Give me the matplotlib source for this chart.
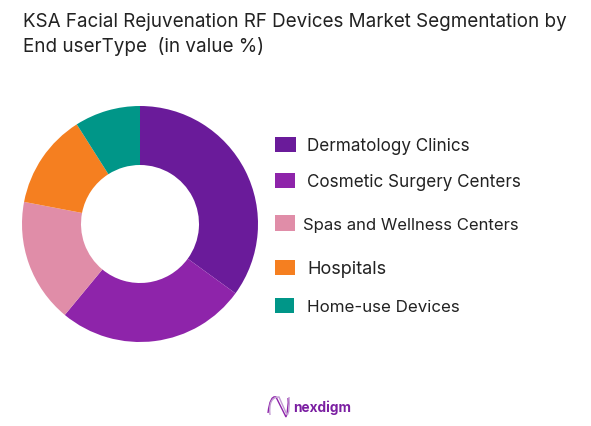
import matplotlib
matplotlib.use("Agg")
import matplotlib.pyplot as plt
from matplotlib.patches import Rectangle
from matplotlib.path import Path
from matplotlib.patches import PathPatch

categories = ["Dermatology Clinics", "Cosmetic Surgery Centers", "Spas and Wellness Centers", "Hospitals", "Home-use Devices"]
values = [35, 26, 17, 13, 9]
colors = ["#6A1B9A", "#8E24AA", "#E08DA8", "#F57F20", "#009688"]
title_lines = ["KSA Facial Rejuvenation RF Devices Market Segmentation by", "End userType  (in value %)"]

W, H = 591, 427
fig = plt.figure(figsize=(W/100, H/100), dpi=100, facecolor="white")
plt.rcParams['font.family'] = ['Inter', 'DejaVu Sans']

# pixel overlay
ov = fig.add_axes([0, 0, 1, 1])
ov.set_xlim(0, W); ov.set_ylim(H, 0); ov.axis("off")

# donut
R = 118; cx, cy = 140, 225
ax = fig.add_axes([(cx-R)/W, 1-(cy+R)/H, 2*R/W, 2*R/H])
ax.pie(values, colors=colors, startangle=90, counterclock=False, radius=1,
       wedgeprops=dict(width=0.5, linewidth=0))
ax.set_xlim(-1, 1); ax.set_ylim(-1, 1)

# title
tc = "#222222"
ov.text(23, 22, title_lines[0], fontsize=13.55, color=tc, va="center", ha="left")
ov.text(23, 46, title_lines[1], fontsize=13.55, color=tc, va="center", ha="left")

# legend
swatch_x = [275, 275, 275, 275, 275]
swatch_y = [138, 174, 216, 261, 299]
swatch_w = [21, 20, 20, 20, 19]
swatch_h = [15, 15, 16, 15, 15]
text_x = [307, 307, 303, 307, 307]
text_y = [147, 183, 226, 270, 308]
text_size = [12.3, 12.3, 12.0, 13.0, 12.2]
for c, col, sx, sy, sw, sh, tx, ty, fs in zip(categories, colors, swatch_x, swatch_y, swatch_w, swatch_h, text_x, text_y, text_size):
    ov.add_patch(Rectangle((sx, sy), sw, sh, facecolor=col, edgecolor="none"))
    ov.text(tx, ty, c, fontsize=fs, color=tc, va="center", ha="left")

# logo
for col, pts in [("#8E24AA", [(268, 414), (270, 396), (276, 398), (281, 408), (286, 418), (289, 408), (288, 399)]),
                 ("#C39BD3", [(270, 416), (268, 398), (279, 398), (283, 407), (287, 416), (290, 414), (289, 398)])]:
    codes = [Path.MOVETO] + [Path.CURVE3]*(len(pts)-1 if (len(pts)-1) % 2 == 0 else len(pts)-2)
    p = pts[:len(codes)]
    ov.add_patch(PathPatch(Path(p, codes), fill=False, edgecolor=col, lw=1.0))
ov.text(293, 408, "nexdigm", fontsize=9.8, color="#7B1FA2", fontweight="bold", va="center", ha="left")

fig.savefig("out.png", dpi=100, facecolor="white")
